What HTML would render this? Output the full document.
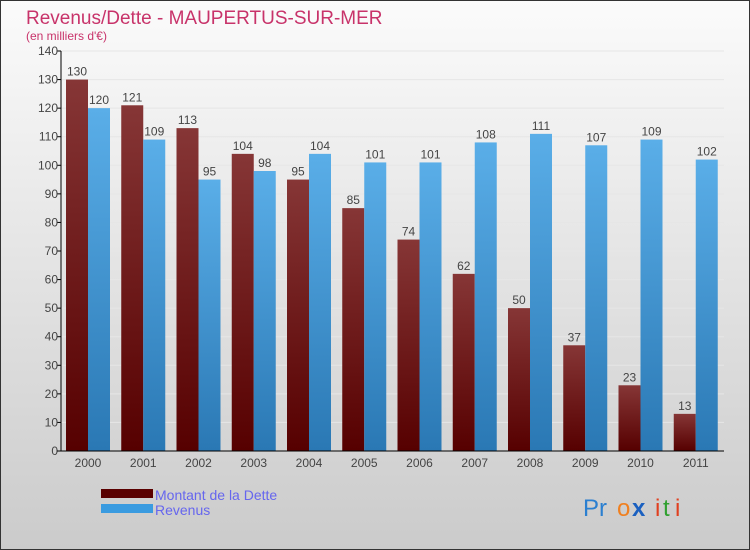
<!DOCTYPE html>
<html><head><meta charset="utf-8"><style>
body{margin:0}
#c{width:748px;height:548px;border:1px solid #333;background:linear-gradient(#fbfbfb,#cbcbcb);position:relative;font-family:"Liberation Sans",sans-serif;overflow:hidden}
</style></head><body>
<div id="c">
<svg width="748" height="548">
<defs>
<linearGradient id="gd" x1="0" y1="0" x2="0" y2="1"><stop offset="0" stop-color="#863636"/><stop offset="1" stop-color="#560000"/></linearGradient>
<linearGradient id="gr" x1="0" y1="0" x2="0" y2="1"><stop offset="0" stop-color="#5aaee8"/><stop offset="1" stop-color="#2a78b4"/></linearGradient>
</defs>
<text x="25" y="23" font-size="19" fill="#c8336a">Revenus/Dette - MAUPERTUS-SUR-MER</text>
<text x="25" y="39" font-size="12" fill="#c8336a">(en milliers d'€)</text>
<g id="plot"></g>
<rect x="100" y="488" width="52" height="9" fill="#5a0000"/>
<rect x="100" y="503" width="52" height="9" fill="#3a9be0"/>
<text x="154" y="499" font-size="14" fill="#6666ee">Montant de la Dette</text>
<text x="154" y="514" font-size="14" fill="#6666ee">Revenus</text>
<g font-size="24" font-family="Liberation Sans,sans-serif">
<text x="582" y="515" fill="#2a7fd0">Pr</text><text x="616" y="515" fill="#f08020">o</text><text x="631" y="515" fill="#1a60c0" font-weight="bold">x</text><text x="654" y="515" fill="#e04020">i</text><text x="662" y="515" fill="#30a030">t</text><text x="674" y="515" fill="#e04020">i</text>
</g>
</svg>
</div>
<script>
const years=["2000","2001","2002","2003","2004","2005","2006","2007","2008","2009","2010","2011"];
const dette=[130,121,113,104,95,85,74,62,50,37,23,13];
const revenus=[120,109,95,98,104,101,101,108,111,107,109,102];
const yTicks=[0,10,20,30,40,50,60,70,80,90,100,110,120,130,140];
const NS="http://www.w3.org/2000/svg";
const g=document.getElementById('plot');
const x0=60,x1=723,y0=450,y1=50,yMax=140;
const step=(x1-x0)/years.length;
const Y=v=>y0-(v/yMax)*(y0-y1);
const X=i=>x0+i*step;
function mk(t,a,txt){const e=document.createElementNS(NS,t);for(const k in a)e.setAttribute(k,a[k]);if(txt!==undefined)e.textContent=txt;g.appendChild(e);return e;}
yTicks.forEach(v=>{
 const l=mk('line',{x1:x0,x2:x1,y1:Y(v),y2:Y(v),stroke:'#e6e6e6','stroke-width':1});
 
 
 const t=mk('line',{x1:x0-4,x2:x0,y1:Y(v),y2:Y(v),stroke:'#000'});
 
 
 const tx=mk('text',{x:x0-3,y:Y(v)+4,'font-size':12,fill:'#444','text-anchor':'end'},v);
 
 
});
years.forEach((yr,i)=>{
 const bx=X(i)+5,bw=22;
 const r1=mk('rect',{x:bx,y:Y(dette[i]),width:bw,height:y0-Y(dette[i]),fill:'url(#gd)'});
 
 
 const r2=mk('rect',{x:bx+bw,y:Y(revenus[i]),width:bw,height:y0-Y(revenus[i]),fill:'url(#gr)'});
 
 
 const t1=mk('text',{x:bx+bw/2,y:Y(dette[i])-4,'font-size':12,fill:'#444','text-anchor':'middle'},dette[i]);
 
 
 const t2=mk('text',{x:bx+bw*1.5,y:Y(revenus[i])-4,'font-size':12,fill:'#444','text-anchor':'middle'},revenus[i]);
 
 
 const xl=mk('text',{x:bx+bw,y:466,'font-size':12,fill:'#444','text-anchor':'middle'},yr);
 
 
});
const ya=mk('line',{x1:x0,x2:x0,y1:y1,y2:y0,stroke:'#000'});


const xa=mk('line',{x1:x0-4,x2:x1,y1:y0,y2:y0,stroke:'#000'});


</script>
</body></html>
